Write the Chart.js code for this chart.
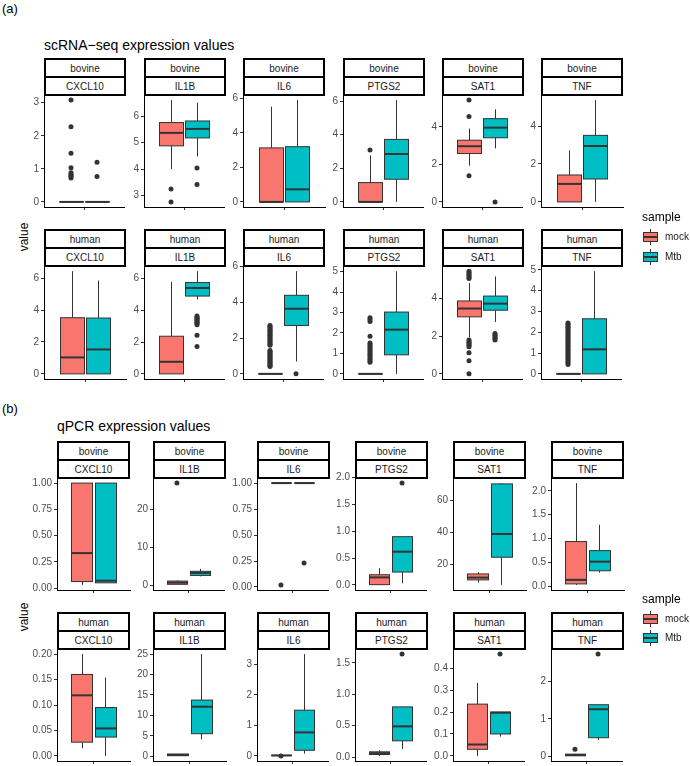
<!DOCTYPE html>
<html>
<head>
<meta charset="utf-8">
<script src="https://cdn.jsdelivr.net/npm/chart.js@4.4.1/dist/chart.umd.min.js"></script>
<style>
  body { margin: 0; background: #fff; font-family: "Liberation Sans", Arial, sans-serif; }
  #page { position: relative; width: 690px; height: 766px; overflow: hidden; background: #fff; }
  .txt { position: absolute; white-space: nowrap; transform: translateY(-50%); line-height: 1; }
  .strip { position: absolute; box-sizing: border-box; border: 2px solid #000; background: #fff;
           display: flex; flex-direction: column; }
  .strip div { flex: 1; display: flex; align-items: center; justify-content: center;
               font-size: 10px; color: #1a1a1a; }
  .strip div:first-child { border-bottom: 2px solid #000; }
  canvas { position: absolute; }
</style>
</head>
<body>
<div id="page"></div>
<script>
const genes = ['CXCL10', 'IL1B', 'IL6', 'PTGS2', 'SAT1', 'TNF'];
const species = ['bovine', 'human'];
const samples = ['mock', 'Mtb'];

// box stats per gene: [lower whisker, q1, median, q3, upper whisker]
// scRNA-seq
const scBovineMock = [
  [0, 0, 0, 0, 0],
  [4.0, 4.88, 5.37, 5.76, 6.61],
  [0, 0, 0, 3.13, 5.52],
  [0, 0, 0, 1.15, 2.77],
  [1.93, 2.58, 2.97, 3.29, 3.91],
  [0, 0, 0.95, 1.42, 2.72]
];
const scBovineMtb = [
  [0, 0, 0, 0, 0],
  [4.48, 5.18, 5.52, 5.82, 6.51],
  [0, 0, 0.73, 3.2, 5.9],
  [0, 1.35, 2.85, 3.72, 6.06],
  [2.85, 3.42, 3.96, 4.44, 4.94],
  [0, 1.21, 2.95, 3.51, 5.37]
];
const scBovineMockOut = [
  [3.08, 2.27, 1.47, 1.03, 0.88, 0.84, 0.8, 0.76, 0.72],
  [3.25, 2.76],
  [],
  [3.09],
  [5.43, 4.55, 1.4],
  []
];
const scBovineMtbOut = [
  [1.2, 0.77],
  [4.04, 3.42],
  [],
  [],
  [0],
  []
];
const scHumanMock = [
  [0, 0, 1.03, 3.52, 6.44],
  [0, 0, 0.76, 2.37, 5.79],
  [0, 0, 0, 0, 0],
  [0, 0, 0, 0, 0],
  [1.93, 3.02, 3.46, 3.86, 4.81],
  [0, 0, 0, 0, 0]
];
const scHumanMtb = [
  [0, 0, 1.53, 3.5, 5.85],
  [4.69, 4.9, 5.41, 5.75, 6.47],
  [0.69, 2.7, 3.64, 4.39, 5.74],
  [0, 0.93, 2.16, 3.02, 5.02],
  [2.75, 3.37, 3.72, 4.12, 5.16],
  [0, 0, 1.18, 2.65, 4.94]
];
const scHumanMockOut = [
  [],
  [],
  [2.7, 2.64, 2.57, 2.5, 2.44, 2.37, 2.3, 2.22, 2.16, 2.09, 2.02, 1.95, 1.88, 1.8, 1.73, 1.66, 1.6,
   1.31, 1.25, 1.18, 1.12, 1.05, 0.98, 0.92, 0.85, 0.78, 0.72, 0.65, 0.58, 0.52, 0.46, 0.41],
  [2.74, 2.66, 2.56, 1.84, 1.51, 1.44, 1.36, 1.28, 1.2, 1.12, 1.04, 0.96, 0.88, 0.8, 0.72, 0.64, 0.57],
  [5.44, 5.36, 5.28, 5.2, 5.12, 5.05, 1.79, 1.72, 1.65, 1.58, 1.51, 1.44, 1.12, 0.7, 0],
  [2.45, 2.38, 2.31, 2.24, 2.17, 2.1, 2.02, 1.95, 1.88, 1.8, 1.73, 1.66, 1.58, 1.51, 1.44, 1.36,
   1.29, 1.21, 1.14, 1.06, 0.99, 0.91, 0.84, 0.76, 0.69, 0.61, 0.53, 0.45]
];
const scHumanMtbOut = [
  [],
  [3.64, 3.57, 3.5, 3.44, 3.37, 3.3, 3.24, 3.17, 3.1, 2.43, 1.73],
  [0],
  [],
  [2.14, 2.07, 2.0, 1.93, 1.86, 1.79],
  []
];

// qPCR
const qBovineMock = [
  [0.03, 0.062, 0.333, 1.0, 1.0],
  [0.1, 0.26, 0.7, 1.12, 1.3],
  [1, 1, 1, 1, 1],
  [0, 0.005, 0.14, 0.19, 0.31],
  [8.4, 10.05, 11.5, 13.8, 14.9],
  [0.035, 0.056, 0.14, 0.94, 2.16]
];
const qBovineMtb = [
  [0.05, 0.05, 0.07, 1.0, 1.0],
  [2.35, 2.6, 3.26, 3.7, 4.35],
  [1, 1, 1, 1, 1],
  [0.03, 0.24, 0.62, 0.9, 0.9],
  [6.9, 24.3, 38.9, 70.4, 70.9],
  [0.29, 0.33, 0.52, 0.75, 1.29]
];
const qBovineMockOut = [[], [27.0], [0.02], [], [], []];
const qBovineMtbOut = [[], [], [0.23], [1.9], [], []];
const qHumanMock = [
  [0.015, 0.027, 0.119, 0.16, 0.2],
  [0.11, 0.16, 0.35, 0.57, 0.6],
  [0.005, 0.01, 0.015, 0.02, 0.025],
  [0.02, 0.042, 0.064, 0.085, 0.11],
  [0, 0.03, 0.052, 0.236, 0.333],
  [0.015, 0.018, 0.04, 0.062, 0.07]
];
const qHumanMtb = [
  [0, 0.037, 0.054, 0.095, 0.154],
  [4.15, 5.54, 12.13, 13.76, 25.0],
  [0.076, 0.185, 0.77, 1.5, 3.34],
  [0.13, 0.26, 0.49, 0.8, 0.8],
  [0.088, 0.1, 0.197, 0.2, 0.2],
  [0.44, 0.5, 1.26, 1.38, 1.38]
];
const qHumanMockOut = [[], [], [0], [], [], [0.195]];
const qHumanMtbOut = [[], [], [], [1.64], [0.464], [2.73]];

// y tick labels
const scBovineTicks = [['0','1','2','3'], ['3','4','5','6'], ['0','2','4','6'], ['0','2','4','6'], ['0','2','4'], ['0','2','4']];
const scHumanTicks = [['0','2','4','6'], ['0','2','4','6'], ['0','2','4','6'], ['0','1','2','3','4','5'], ['0','2','4'], ['0','1','2','3','4','5']];
const qBovineTicks = [['0.00','0.25','0.50','0.75','1.00'], ['0','10','20'], ['0.00','0.25','0.50','0.75','1.00'],
                      ['0.0','0.5','1.0','1.5','2.0'], ['20','40','60'], ['0.0','0.5','1.0','1.5','2.0']];
const qHumanTicks = [['0.00','0.05','0.10','0.15','0.20'], ['0','5','10','15','20','25'], ['0','1','2','3'],
                     ['0.0','0.5','1.0','1.5'], ['0.0','0.1','0.2','0.3','0.4'], ['0','1','2']];

const fillColors = ['#F8766D', '#00BFC4'];
const OFF = 0.195, HALF = 0.174; // dodge offset and half box width, x units
const page = document.getElementById('page');

function addText(text, x, y, size, extra) {
  const d = document.createElement('div');
  d.className = 'txt';
  d.textContent = text;
  d.style.cssText = `left:${x}px;top:${y}px;font-size:${size}px;` + (extra || '');
  page.appendChild(d);
  return d;
}

function addStrip(x, top, w, sp, gene) {
  const s = document.createElement('div');
  s.className = 'strip';
  s.style.cssText = `left:${x}px;top:${top}px;width:${w}px;height:38px;`;
  s.innerHTML = `<div>${sp}</div><div>${gene}</div>`;
  page.appendChild(s);
}

// draws whiskers, boxes and medians through the chart scales
function boxPlugin(stats) {
  return {
    id: 'boxes',
    beforeDatasetsDraw(chart) {
      const { ctx, scales: { x, y } } = chart;
      ctx.save();
      stats.forEach((s, i) => {
        const c = i === 0 ? -OFF : OFF;
        const cx = Math.round(x.getPixelForValue(c)) + 0.5;
        const l = Math.round(x.getPixelForValue(c - HALF)) + 0.5;
        const r = Math.round(x.getPixelForValue(c + HALF)) + 0.5;
        const [lo, q1, med, q3, hi] = s.map(v => y.getPixelForValue(v));
        ctx.strokeStyle = '#333';
        ctx.lineWidth = 1;
        ctx.beginPath();
        ctx.moveTo(cx, hi); ctx.lineTo(cx, q3);
        ctx.moveTo(cx, q1); ctx.lineTo(cx, lo);
        ctx.stroke();
        ctx.fillStyle = fillColors[i];
        ctx.fillRect(l, q3, r - l, q1 - q3);
        ctx.strokeRect(l, q3, r - l, q1 - q3);
        ctx.lineWidth = 2;
        ctx.beginPath();
        ctx.moveTo(l, med); ctx.lineTo(r, med);
        ctx.stroke();
      });
      ctx.restore();
    }
  };
}

function makePanel(left, top, w, h, mock, mtb, mockOut, mtbOut, tickLabels) {
  const AX = 30, PT = 8, PB = 10, PR = 2;
  const cv = document.createElement('canvas');
  cv.width = w + AX + PR;
  cv.height = h + PT + PB;
  cv.style.left = (left - AX) + 'px';
  cv.style.top = (top - PT) + 'px';
  page.appendChild(cv);

  const vals = mock.concat(mtb, mockOut, mtbOut);
  const lo = Math.min(...vals), hi = Math.max(...vals);
  const pad = (hi - lo) * 0.05;
  const tickVals = tickLabels.map(Number);

  new Chart(cv, {
    type: 'scatter',
    data: {
      datasets: [
        { data: mockOut.map(v => ({ x: -OFF, y: v })), backgroundColor: '#333', borderWidth: 0, pointRadius: 2.5 },
        { data: mtbOut.map(v => ({ x: OFF, y: v })), backgroundColor: '#333', borderWidth: 0, pointRadius: 2.5 }
      ]
    },
    options: {
      responsive: false,
      animation: false,
      devicePixelRatio: 1,
      events: [],
      layout: { padding: { top: PT, right: PR, bottom: 0, left: 0 } },
      plugins: { legend: { display: false }, tooltip: { enabled: false } },
      scales: {
        x: {
          type: 'linear', min: -0.6, max: 0.6,
          afterBuildTicks: s => { s.ticks = [{ value: 0 }]; },
          afterFit: s => { s.height = PB; },
          ticks: { display: false },
          grid: { drawOnChartArea: false, drawTicks: true, tickLength: 3, color: '#333' },
          border: { display: true, color: '#000', width: 1 }
        },
        y: {
          type: 'linear', min: lo - pad, max: hi + pad, bounds: 'data',
          afterBuildTicks: s => { s.ticks = tickVals.map(v => ({ value: v })); },
          afterFit: s => { s.width = AX; },
          ticks: {
            autoSkip: false, padding: 2, color: '#4d4d4d',
            font: { family: 'Liberation Sans', size: 10 },
            callback: (v, i) => tickLabels[i]
          },
          grid: { drawOnChartArea: false, drawTicks: true, tickLength: 3, color: '#333' },
          border: { display: true, color: '#000', width: 1 }
        }
      }
    },
    plugins: [boxPlugin([mock, mtb])]
  });
}

function addLegend(titleY, boxTops) {
  addText('sample', 642, titleY, 12, 'color:#000;');
  samples.forEach((s, i) => {
    const t = boxTops[i];
    const stem = document.createElement('div');
    stem.style.cssText = `position:absolute;left:650px;top:${t - 3}px;width:1px;height:16px;background:#333;`;
    page.appendChild(stem);
    const b = document.createElement('div');
    b.style.cssText = `position:absolute;left:643px;top:${t}px;width:15px;height:10px;box-sizing:border-box;` +
      `border:1px solid #333;background:${fillColors[i]};`;
    b.innerHTML = '<div style="position:absolute;left:0;right:0;top:3px;height:2px;background:#333;"></div>';
    page.appendChild(b);
    addText(s, 665, t + 5, 10, 'color:#1a1a1a;');
  });
}

const sections = [
  { tag: '(a)', tagY: 8, title: 'scRNA\u2212seq expression values', titleX: 44, titleY: 45,
    lefts: [44, 144, 243, 343, 442, 541], width: 82,
    stripTops: [58, 229], bottoms: [207, 379], valueY: 237,
    legendY: 217, legendBoxes: [232, 252],
    data: [[scBovineMock, scBovineMtb, scBovineMockOut, scBovineMtbOut, scBovineTicks],
           [scHumanMock, scHumanMtb, scHumanMockOut, scHumanMtbOut, scHumanTicks]] },
  { tag: '(b)', tagY: 408, title: 'qPCR expression values', titleX: 57, titleY: 426,
    lefts: [57, 153, 257, 355, 453, 551], width: 73,
    stripTops: [441, 612], bottoms: [590, 761], valueY: 617,
    legendY: 599, legendBoxes: [614, 633],
    data: [[qBovineMock, qBovineMtb, qBovineMockOut, qBovineMtbOut, qBovineTicks],
           [qHumanMock, qHumanMtb, qHumanMockOut, qHumanMtbOut, qHumanTicks]] }
];

sections.forEach(sec => {
  addText(sec.tag, 2, sec.tagY, 13, 'color:#000;');
  addText(sec.title, sec.titleX, sec.titleY, 14, 'color:#000;');
  const v = addText('value', 24, sec.valueY, 12, 'color:#000;');
  v.style.transform = 'translate(-50%,-50%) rotate(-90deg)';
  sec.stripTops.forEach((st, r) => {
    const plotTop = st + 37;
    const h = sec.bottoms[r] - plotTop;
    const [m, t, mo, to, ticks] = sec.data[r];
    genes.forEach((g, c) => {
      makePanel(sec.lefts[c], plotTop, sec.width, h, m[c], t[c], mo[c], to[c], ticks[c]);
      addStrip(sec.lefts[c], st, sec.width, species[r], g);
    });
  });
  addLegend(sec.legendY, sec.legendBoxes);
});
</script>
</body>
</html>
